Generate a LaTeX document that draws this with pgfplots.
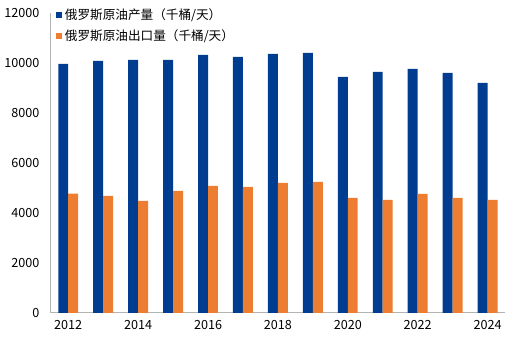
\documentclass[border=0pt]{standalone}
\usepackage{pgfplots}
\pgfplotsset{compat=1.18}
\usepackage{fontspec}
\setmainfont{Noto Sans CJK SC}
\definecolor{cblue}{RGB}{0,61,145}
\definecolor{corange}{RGB}{237,125,49}
\definecolor{axgray}{RGB}{180,180,180}
\begin{document}
\begin{tikzpicture}
\begin{axis}[
  scale only axis,
  width=342pt, height=225.75pt,
  ybar=0pt, bar width=7.5pt,
  xmin=-0.5, xmax=12.5,
  ymin=0, ymax=12000,
  xtick={0,2,4,6,8,10,12},
  xticklabels={2012,2014,2016,2018,2020,2022,2024},
  ytick={0,2000,4000,6000,8000,10000,12000},
  major tick length=0pt,
  axis x line*=bottom, axis y line*=left,
  axis line style={axgray, line width=0.8pt},
  /pgf/number format/assume math mode=true,
  scaled y ticks=false,
  yticklabel style={/pgf/number format/1000 sep={}, xshift=-5pt, font=\fontsize{9.5}{11}\selectfont},
  xticklabel style={yshift=-2pt, font=\fontsize{9.5}{11}\selectfont},
  legend style={draw=none, fill=none, at={(rel axis cs:0.012,1.025)}, anchor=north west,
     font=\fontsize{9.5}{11}\selectfont, row sep=2.5pt, inner sep=0pt},
  legend cell align=left,
  legend image code/.code={\fill[#1] (0pt,-2.2pt) rectangle (4.4pt,2.2pt);},
  clip=false,
]
\addplot[fill=cblue, draw=none] coordinates {
(0,9960) (1,10080) (2,10120) (3,10120) (4,10320) (5,10240) (6,10360)
(7,10400) (8,9440) (9,9640) (10,9760) (11,9600) (12,9200)};
\addplot[fill=corange, draw=none] coordinates {
(0,4770) (1,4680) (2,4480) (3,4880) (4,5080) (5,5040) (6,5200)
(7,5240) (8,4600) (9,4520) (10,4760) (11,4600) (12,4520)};
\legend{俄罗斯原油产量（千桶/天）, 俄罗斯原油出口量（千桶/天）}
\end{axis}
\path ([shift={(-36.75pt,-20.25pt)}]current axis.south west) rectangle ([shift={(4.5pt,9.75pt)}]current axis.north east);
\end{tikzpicture}
\end{document}
